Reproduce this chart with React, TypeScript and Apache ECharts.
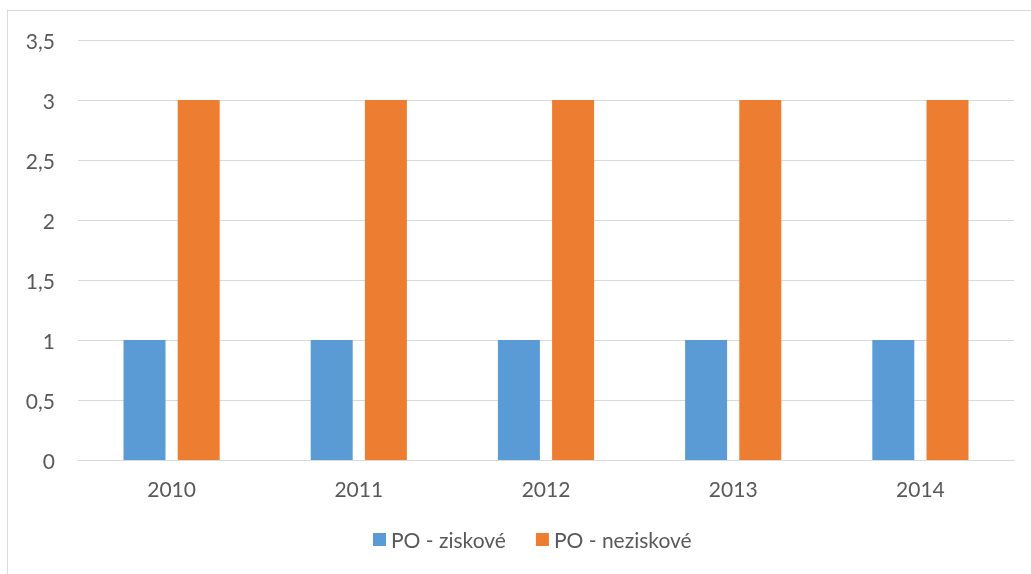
import React, { useEffect, useRef } from "react";
import * as echarts from "echarts";

const categories = ["2010", "2011", "2012", "2013", "2014"];
const seriesNames = ["PO - ziskové", "PO - neziskové"];
const ziskove = [1, 1, 1, 1, 1];
const neziskove = [3, 3, 3, 3, 3];

export default function App() {
  const ref = useRef<HTMLDivElement>(null);
  useEffect(() => {
    if (!ref.current) return;
    const chart = echarts.init(ref.current, undefined, { renderer: "svg" });
    const font = "Lato, 'Open Sans', sans-serif";
    chart.setOption({
      animation: false,
      textStyle: { fontFamily: font },
      grid: { left: 78, right: 17, top: 40, bottom: 114, containLabel: false },
      legend: {
        bottom: 19,
        left: 368,
        itemWidth: 13,
        itemHeight: 13,
        itemGap: 30,
        icon: "rect",
        textStyle: { color: "#595959", fontSize: 21, fontFamily: font, padding: [0, 0, 0, 0] },
        data: seriesNames,
      },
      xAxis: {
        type: "category",
        data: categories,
        axisLine: { show: true, lineStyle: { color: "#d9d9d9", width: 1 } },
        axisTick: { show: false },
        axisLabel: { color: "#595959", fontSize: 21, margin: 18, fontFamily: font },
      },
      yAxis: {
        type: "value",
        min: 0,
        max: 3.5,
        interval: 0.5,
        axisLine: { show: false },
        axisTick: { show: false },
        splitLine: { lineStyle: { color: "#d9d9d9", width: 1 } },
        axisLabel: {
          color: "#595959",
          fontSize: 21,
          margin: 23,
          fontFamily: font,
          formatter: (v: number) => String(v).replace(".", ","),
        },
      },
      series: [
        {
          name: seriesNames[0],
          type: "bar",
          data: ziskove,
          barWidth: 42,
          barGap: "29%",
          itemStyle: { color: "#5b9bd5" },
        },
        {
          name: seriesNames[1],
          type: "bar",
          data: neziskove,
          barWidth: 42,
          barGap: "29%",
          itemStyle: { color: "#ed7d31" },
        },
      ],
    });
    return () => chart.dispose();
  }, []);
  return (
    <>
      <div
        style={{
          position: "fixed",
          left: 7,
          top: 10,
          width: 1100,
          height: 700,
          borderTop: "1px solid #d9d9d9",
          borderLeft: "1px solid #d9d9d9",
          boxSizing: "border-box",
        }}
      />
      <div ref={ref} style={{ position: "fixed", left: 0, top: 0, width: 1031, height: 574 }} />
    </>
  );
}
